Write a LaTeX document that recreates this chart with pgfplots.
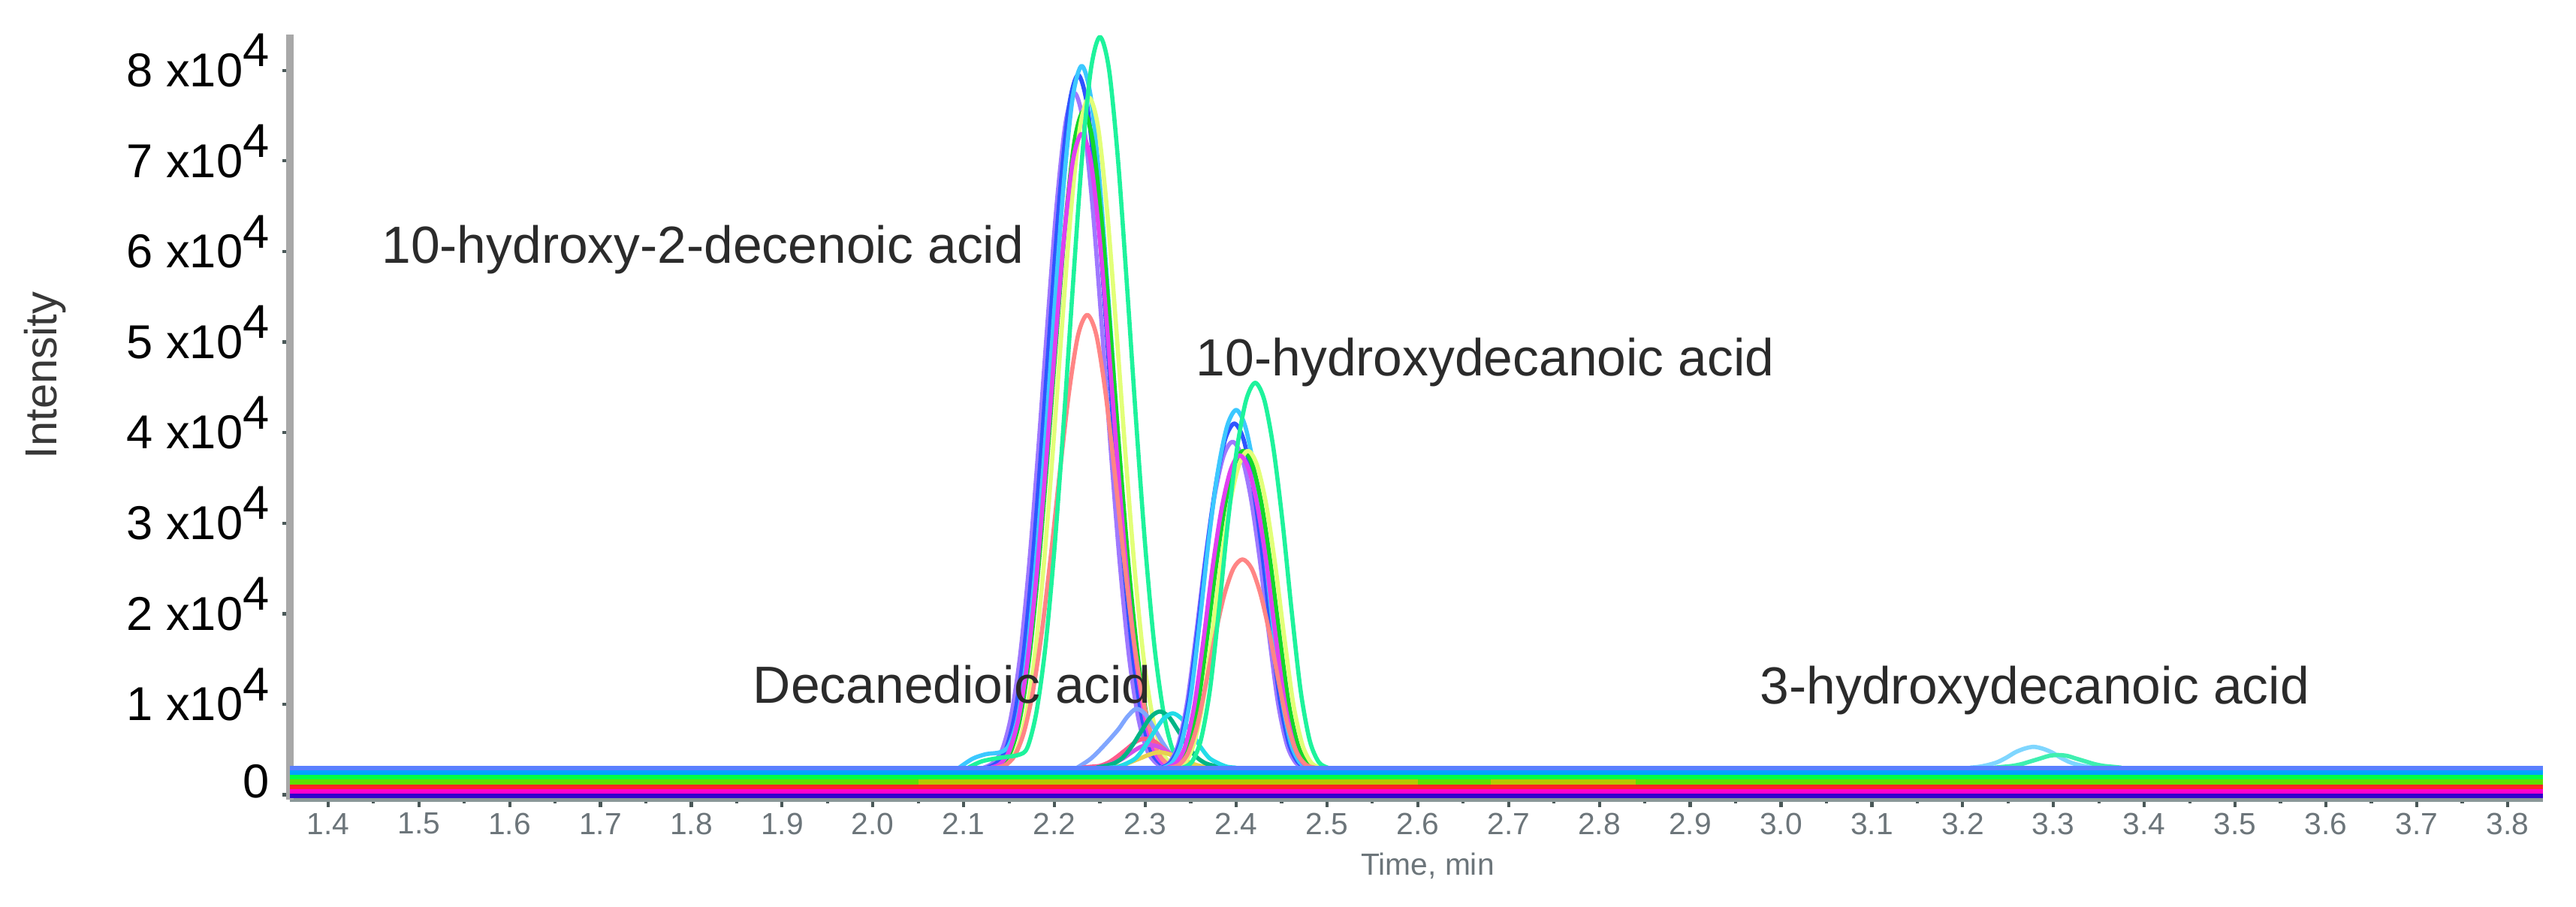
\documentclass[border=0pt]{standalone}
\usepackage{fontspec}
\setmainfont{Liberation Sans}
\usepackage{pgfplots}
\pgfplotsset{compat=1.18}
% band colours
\definecolor{bblue}{HTML}{5A80FF}
\definecolor{bazure}{HTML}{00A3FF}
\definecolor{bgreen}{HTML}{00FF45}
\definecolor{byg}{HTML}{5EE000}
\definecolor{bolive}{HTML}{B6C800}
\definecolor{bred}{HTML}{FF2424}
\definecolor{bmag}{HTML}{FF00CC}
\definecolor{bpur}{HTML}{3300CC}
% peak colours
\definecolor{clav}{HTML}{9F78FF}
\definecolor{cblu}{HTML}{2F55FF}
\definecolor{ccya}{HTML}{3CC8FF}
\definecolor{cgrn}{HTML}{12D82A}
\definecolor{cyel}{HTML}{E2FF78}
\definecolor{cmag}{HTML}{E040F0}
\definecolor{csal}{HTML}{FF8585}
\definecolor{cspr}{HTML}{1EF39C}
\definecolor{uone}{HTML}{80A6FF}
\definecolor{utwo}{HTML}{00B585}
\definecolor{uthr}{HTML}{22DCE8}
\definecolor{ufou}{HTML}{FF5C8C}
\definecolor{ufiv}{HTML}{E8D050}
\definecolor{usix}{HTML}{D050E8}
\definecolor{vone}{HTML}{7FD6FF}
\definecolor{vtwo}{HTML}{3FEFB0}
% axis colours
\definecolor{xaxc}{HTML}{8A9898}
\definecolor{yaxc}{HTML}{A8A8A8}
\definecolor{tickc}{HTML}{4A5858}
\definecolor{labgray}{HTML}{6C757A}
\definecolor{anntext}{HTML}{2B2B2B}
\newcommand{\yl}[1]{#1 x10\raisebox{0.42em}[0pt][0pt]{4}}
\begin{document}
\begin{tikzpicture}
\path[use as bounding box] (-1.93,-0.715) rectangle (15.22,5.325);
\begin{axis}[
  at={(0,0)}, anchor=south west, scale only axis,
  width=15cm, height=5.097cm,
  xmin=1.358, xmax=3.839, ymin=-0.053, ymax=8.40,
  clip=false,
  axis x line*=bottom, axis y line*=left,
  x axis line style={draw=xaxc, line width=0.75pt},
  y axis line style={draw=yaxc, line width=1.3pt},
  xtick={1.4,1.5,1.6,1.7,1.8,1.9,2.0,2.1,2.2,2.3,2.4,2.5,2.6,2.7,2.8,2.9,3.0,3.1,3.2,3.3,3.4,3.5,3.6,3.7,3.8},
  xticklabels={1.4,1.5,1.6,1.7,1.8,1.9,2.0,2.1,2.2,2.3,2.4,2.5,2.6,2.7,2.8,2.9,3.0,3.1,3.2,3.3,3.4,3.5,3.6,3.7,3.8},
  ytick={0,1,2,3,4,5,6,7,8},
  yticklabels={\raisebox{0.09cm}[\height][\depth]{0},\yl{1},\yl{2},\yl{3},\yl{4},\yl{5},\yl{6},\yl{7},\yl{8}},
  minor x tick num=1, minor y tick num=1,
  tick align=outside,
  major tick length=0.05cm, minor tick length=0.025cm,
  tick style={draw=tickc, line width=0.6pt},
  xticklabel style={font=\fontsize{5.8}{6}\selectfont, text=labgray, anchor=center, inner sep=0pt, yshift=-0.11cm},
  yticklabel style={font=\fontsize{9}{9}\selectfont, text=black, anchor=east, inner sep=0pt, xshift=-0.08cm},
  every axis plot/.append style={line join=round},
]
% ---------- main peak: 10-hydroxy-2-decenoic acid ----------
\addplot[clav, line width=0.8pt, smooth] coordinates {(2.122,0.30)(2.132,0.35)(2.142,0.49)(2.152,0.86)(2.162,1.53)(2.172,2.54)(2.182,3.80)(2.192,5.18)(2.202,6.48)(2.212,7.41)(2.222,7.75)(2.232,7.41)(2.242,6.48)(2.252,5.18)(2.262,3.80)(2.272,2.54)(2.282,1.53)(2.292,0.86)(2.302,0.49)(2.312,0.35)(2.322,0.30)};
\addplot[cblu, line width=0.8pt, smooth] coordinates {(2.126,0.30)(2.136,0.35)(2.146,0.49)(2.156,0.87)(2.166,1.56)(2.176,2.60)(2.186,3.90)(2.196,5.31)(2.206,6.65)(2.216,7.61)(2.226,7.95)(2.236,7.61)(2.246,6.65)(2.256,5.31)(2.266,3.90)(2.276,2.60)(2.286,1.56)(2.296,0.87)(2.306,0.49)(2.316,0.35)(2.326,0.30)};
\addplot[ccya, line width=0.8pt, smooth] coordinates {(2.095,0.30)(2.110,0.40)(2.125,0.45)(2.140,0.47)(2.150,0.55)(2.160,0.88)(2.170,1.58)(2.180,2.63)(2.190,3.94)(2.200,5.38)(2.210,6.73)(2.220,7.70)(2.230,8.05)(2.240,7.70)(2.250,6.73)(2.260,5.38)(2.270,3.94)(2.280,2.63)(2.290,1.58)(2.300,0.88)(2.310,0.49)(2.320,0.35)(2.330,0.30)};
\addplot[cgrn, line width=0.8pt, smooth] coordinates {(2.132,0.30)(2.142,0.34)(2.152,0.48)(2.162,0.84)(2.172,1.50)(2.182,2.48)(2.192,3.71)(2.202,5.05)(2.212,6.32)(2.222,7.22)(2.232,7.55)(2.242,7.22)(2.252,6.32)(2.262,5.05)(2.272,3.71)(2.282,2.48)(2.292,1.50)(2.302,0.84)(2.312,0.48)(2.322,0.34)(2.332,0.30)};
\addplot[cyel, line width=0.8pt, smooth] coordinates {(2.138,0.30)(2.148,0.34)(2.158,0.49)(2.168,0.86)(2.178,1.52)(2.188,2.52)(2.198,3.78)(2.208,5.15)(2.218,6.44)(2.228,7.37)(2.238,7.70)(2.248,7.37)(2.258,6.44)(2.268,5.15)(2.278,3.78)(2.288,2.52)(2.298,1.52)(2.308,0.86)(2.318,0.49)(2.328,0.34)(2.338,0.30)};
\addplot[cmag, line width=0.8pt, smooth] coordinates {(2.130,0.30)(2.140,0.34)(2.150,0.48)(2.160,0.83)(2.170,1.46)(2.180,2.40)(2.190,3.59)(2.200,4.89)(2.210,6.11)(2.220,6.99)(2.230,7.30)(2.240,6.99)(2.250,6.11)(2.260,4.89)(2.270,3.59)(2.280,2.40)(2.290,1.46)(2.300,0.83)(2.310,0.48)(2.320,0.34)(2.330,0.30)};
\addplot[csal, line width=0.8pt, smooth] coordinates {(2.136,0.30)(2.146,0.33)(2.156,0.43)(2.166,0.68)(2.176,1.13)(2.186,1.80)(2.196,2.65)(2.206,3.58)(2.216,4.45)(2.226,5.08)(2.236,5.30)(2.246,5.08)(2.256,4.45)(2.266,3.58)(2.276,2.65)(2.286,1.80)(2.296,1.13)(2.306,0.68)(2.316,0.43)(2.326,0.33)(2.336,0.30)};
\addplot[cspr, line width=0.8pt, smooth] coordinates {(2.105,0.30)(2.120,0.37)(2.140,0.41)(2.160,0.44)(2.170,0.52)(2.180,0.91)(2.190,1.64)(2.200,2.73)(2.210,4.10)(2.220,5.59)(2.230,7.00)(2.240,8.01)(2.250,8.37)(2.260,8.01)(2.270,7.00)(2.280,5.59)(2.290,4.10)(2.300,2.73)(2.310,1.64)(2.320,0.91)(2.330,0.50)(2.340,0.35)(2.350,0.30)};
% ---------- small peaks: decanedioic acid ----------
\addplot[uone, line width=0.8pt, smooth] coordinates {(2.225,0.30)(2.240,0.40)(2.255,0.55)(2.270,0.72)(2.280,0.86)(2.290,0.95)(2.300,0.89)(2.310,0.73)(2.320,0.56)(2.330,0.42)(2.340,0.35)(2.350,0.32)(2.360,0.30)};
\addplot[ufou, line width=0.8pt, smooth] coordinates {(2.230,0.30)(2.240,0.31)(2.250,0.32)(2.260,0.36)(2.270,0.43)(2.280,0.51)(2.290,0.59)(2.300,0.62)(2.310,0.59)(2.320,0.51)(2.330,0.43)(2.340,0.36)(2.350,0.32)(2.360,0.31)(2.370,0.30)};
\addplot[usix, line width=0.8pt, smooth] coordinates {(2.245,0.30)(2.255,0.32)(2.265,0.35)(2.275,0.40)(2.285,0.47)(2.295,0.53)(2.305,0.55)(2.315,0.53)(2.325,0.47)(2.335,0.40)(2.345,0.35)(2.355,0.32)(2.365,0.30)};
\addplot[ufiv, line width=0.8pt, smooth] coordinates {(2.256,0.30)(2.266,0.31)(2.276,0.33)(2.286,0.37)(2.296,0.41)(2.306,0.45)(2.316,0.47)(2.326,0.45)(2.336,0.41)(2.346,0.37)(2.356,0.33)(2.366,0.31)(2.376,0.30)};
\addplot[utwo, line width=0.8pt, smooth] coordinates {(2.246,0.30)(2.256,0.32)(2.266,0.35)(2.276,0.42)(2.286,0.55)(2.296,0.71)(2.306,0.86)(2.316,0.92)(2.326,0.86)(2.336,0.71)(2.346,0.55)(2.356,0.42)(2.366,0.35)(2.376,0.32)(2.386,0.30)};
\addplot[uthr, line width=0.8pt, smooth] coordinates {(2.260,0.30)(2.270,0.31)(2.280,0.35)(2.290,0.41)(2.300,0.54)(2.310,0.70)(2.320,0.84)(2.330,0.90)(2.340,0.84)(2.350,0.70)(2.360,0.54)(2.370,0.41)(2.380,0.35)(2.390,0.31)(2.400,0.30)};
% ---------- second peak: 10-hydroxydecanoic acid ----------
\addplot[clav, line width=0.8pt, smooth] coordinates {(2.316,0.30)(2.326,0.35)(2.336,0.55)(2.346,1.02)(2.356,1.78)(2.366,2.60)(2.376,3.29)(2.386,3.74)(2.396,3.90)(2.406,3.74)(2.416,3.29)(2.426,2.60)(2.436,1.78)(2.446,1.02)(2.456,0.55)(2.466,0.35)(2.476,0.30)};
\addplot[cblu, line width=0.8pt, smooth] coordinates {(2.318,0.30)(2.328,0.36)(2.338,0.57)(2.348,1.06)(2.358,1.86)(2.368,2.73)(2.378,3.45)(2.388,3.93)(2.398,4.10)(2.408,3.93)(2.418,3.45)(2.428,2.73)(2.438,1.86)(2.448,1.06)(2.458,0.57)(2.468,0.36)(2.478,0.30)};
\addplot[ccya, line width=0.8pt, smooth] coordinates {(2.320,0.30)(2.330,0.36)(2.340,0.58)(2.350,1.09)(2.360,1.92)(2.370,2.83)(2.380,3.58)(2.390,4.07)(2.400,4.25)(2.410,4.07)(2.420,3.58)(2.430,2.83)(2.440,1.92)(2.450,1.09)(2.460,0.58)(2.470,0.36)(2.480,0.30)};
\addplot[cgrn, line width=0.8pt, smooth] coordinates {(2.328,0.30)(2.338,0.35)(2.348,0.55)(2.358,1.00)(2.368,1.74)(2.378,2.54)(2.388,3.21)(2.398,3.64)(2.408,3.80)(2.418,3.64)(2.428,3.21)(2.438,2.54)(2.448,1.74)(2.458,1.00)(2.468,0.55)(2.478,0.35)(2.488,0.30)};
\addplot[cyel, line width=0.8pt, smooth] coordinates {(2.333,0.30)(2.343,0.35)(2.353,0.55)(2.363,1.00)(2.373,1.74)(2.383,2.54)(2.393,3.21)(2.403,3.64)(2.413,3.80)(2.423,3.64)(2.433,3.21)(2.443,2.54)(2.453,1.74)(2.463,1.00)(2.473,0.55)(2.483,0.35)(2.493,0.30)};
\addplot[cmag, line width=0.8pt, smooth] coordinates {(2.324,0.30)(2.334,0.35)(2.344,0.54)(2.354,0.99)(2.364,1.71)(2.374,2.51)(2.384,3.16)(2.394,3.59)(2.404,3.75)(2.414,3.59)(2.424,3.16)(2.434,2.51)(2.444,1.71)(2.454,0.99)(2.464,0.54)(2.474,0.35)(2.484,0.30)};
\addplot[csal, line width=0.8pt, smooth] coordinates {(2.327,0.30)(2.337,0.33)(2.347,0.46)(2.357,0.76)(2.367,1.24)(2.377,1.77)(2.387,2.21)(2.397,2.50)(2.407,2.60)(2.417,2.50)(2.427,2.21)(2.437,1.77)(2.447,1.24)(2.457,0.76)(2.467,0.46)(2.477,0.33)(2.487,0.30)};
\addplot[cspr, line width=0.8pt, smooth] coordinates {(2.341,0.30)(2.351,0.36)(2.361,0.60)(2.371,1.15)(2.381,2.04)(2.391,3.02)(2.401,3.83)(2.411,4.36)(2.421,4.55)(2.431,4.36)(2.441,3.83)(2.451,3.02)(2.461,2.04)(2.471,1.15)(2.481,0.60)(2.491,0.36)(2.501,0.30)};
% ---------- small peaks: 3-hydroxydecanoic acid ----------
\addplot[vone, line width=0.8pt, smooth] coordinates {(3.208,0.30)(3.218,0.31)(3.228,0.33)(3.238,0.36)(3.248,0.41)(3.258,0.47)(3.268,0.51)(3.278,0.53)(3.288,0.51)(3.298,0.47)(3.308,0.41)(3.318,0.36)(3.328,0.33)(3.338,0.31)(3.348,0.30)};
\addplot[vtwo, line width=0.8pt, smooth] coordinates {(3.235,0.30)(3.245,0.31)(3.255,0.32)(3.265,0.34)(3.275,0.37)(3.285,0.40)(3.295,0.43)(3.305,0.44)(3.315,0.43)(3.325,0.40)(3.335,0.37)(3.345,0.34)(3.355,0.32)(3.365,0.31)(3.375,0.30)};
% ---------- baseline bands ----------
\addplot[bpur, line width=0.9pt] coordinates {(1.358,-0.010)(3.839,-0.010)};
\addplot[bmag, line width=0.9pt] coordinates {(1.358,0.041)(3.839,0.041)};
\addplot[bred, line width=0.9pt] coordinates {(1.358,0.092)(3.839,0.092)};
\addplot[byg, line width=0.9pt] coordinates {(1.358,0.143)(3.839,0.143)};
\addplot[bolive, line width=0.9pt] coordinates {(2.05,0.143)(2.60,0.143)};
\addplot[bolive, line width=0.9pt] coordinates {(2.68,0.143)(2.84,0.143)};
\addplot[bgreen, line width=0.9pt] coordinates {(1.358,0.194)(3.839,0.194)};
\addplot[bazure, line width=0.9pt] coordinates {(1.358,0.245)(3.839,0.245)};
\addplot[bblue, line width=0.9pt] coordinates {(1.358,0.296)(3.839,0.296)};
% ---------- annotations ----------
\node[anchor=base west, inner sep=0pt, text=anntext, font=\fontsize{9.9}{10}\selectfont] at (axis cs:1.458,5.875) {10-hydroxy-2-decenoic acid};
\node[anchor=base west, inner sep=0pt, text=anntext, font=\fontsize{9.9}{10}\selectfont] at (axis cs:2.355,4.63) {10-hydroxydecanoic acid};
\node[anchor=base west, inner sep=0pt, text=anntext, font=\fontsize{9.9}{10}\selectfont] at (axis cs:1.867,1.01) {Decanedioic acid};
\node[anchor=base west, inner sep=0pt, text=anntext, font=\fontsize{9.9}{10}\selectfont] at (axis cs:2.976,1.00) {3-hydroxydecanoic acid};
\end{axis}
\node[rotate=90, inner sep=0pt, text=black!78, font=\fontsize{8.5}{9}\selectfont] at (-1.63,2.825) {Intensity};
\node[inner sep=0pt, text=labgray, font=\fontsize{5.8}{6}\selectfont] at (7.575,-0.44) {Time, min};
\end{tikzpicture}
\end{document}
